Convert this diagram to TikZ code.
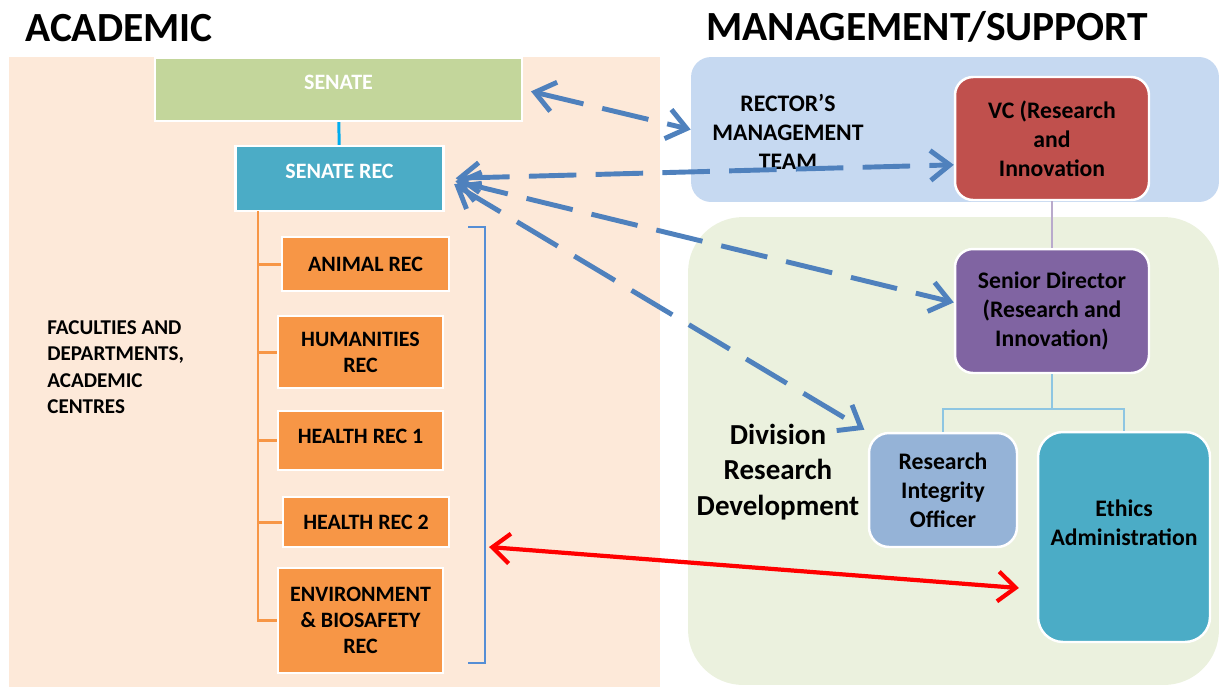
\documentclass[tikz,border=0pt]{standalone}
\usepackage{fontspec}
\setmainfont{Carlito}
\usetikzlibrary{arrows.meta}

\definecolor{acadbg}{RGB}{253,233,217}
\definecolor{senategreen}{RGB}{195,214,155}
\definecolor{recteal}{RGB}{75,172,198}
\definecolor{recorange}{RGB}{247,150,70}
\definecolor{rmtblue}{RGB}{198,217,241}
\definecolor{drdgreen}{RGB}{235,241,222}
\definecolor{vcred}{RGB}{192,80,77}
\definecolor{sdpurple}{RGB}{128,100,162}
\definecolor{rioblue}{RGB}{149,179,215}
\definecolor{linkblue}{RGB}{79,129,189}
\definecolor{bracketblue}{RGB}{85,142,213}

\begin{document}
\begin{tikzpicture}[x=0.02cm,y=-0.02cm,
  every node/.append style={inner sep=0pt},
  boxfont/.style={font=\fontsize{12.5}{14.8}\selectfont\bfseries},
  rightfont/.style={font=\fontsize{13.5}{16.5}\selectfont\bfseries},
  flatbox/.style={draw=white, line width=1.4pt, align=center, boxfont},
  recbox/.style={flatbox, fill=recorange, text=black},
  roundbox/.style={draw=white, line width=1.4pt, align=center, rightfont, rounded corners=0.36cm},
  dasharrow/.style={linkblue, line width=2.8pt, dash pattern=on 27pt off 11pt,
    {Straight Barb[length=11pt,width=17pt]}-{Straight Barb[length=11pt,width=17pt]}},
  redarrow/.style={red, line width=2.4pt,
    {Straight Barb[length=10pt,width=17pt]}-{Straight Barb[length=10pt,width=17pt]}},
  treeline/.style={recorange, line width=1.7pt},
  forkline/.style={cyan!35!recteal!60!white, line width=1.6pt}]
\useasboundingbox (0,0) rectangle (1219,687);

\fill [acadbg] (9,57) rectangle (660,687);
\node [fill=rmtblue, rounded corners=0.4cm, minimum width=10.56cm, minimum height=2.9cm] (rmt) at (955,129.5) {};
\node [fill=drdgreen, rounded corners=1.1cm, minimum width=10.62cm, minimum height=9.36cm] (drd) at (953.5,451) {};

\node [anchor=base west, font=\fontsize{23.6}{28}\selectfont\bfseries] (acadtitle) at (25,41) {ACADEMIC};
\node [anchor=base west, font=\fontsize{23.6}{28}\selectfont\bfseries] (mgmttitle) at (706,40) {MANAGEMENT/SUPPORT};

\node [flatbox, fill=senategreen, text=white, minimum width=7.34cm, text height=0.63cm, text depth=0.63cm] (senate) at (338.5,89.5) {SENATE};
\node [flatbox, fill=recteal, text=white, minimum width=4.16cm, text height=0.65cm, text depth=0.65cm] (senaterec) at (339.5,178.5) {SENATE REC};
\node [recbox, minimum width=3.34cm, minimum height=1.08cm] (animal) at (365.5,264) {ANIMAL REC};
\node [recbox, minimum width=3.3cm, minimum height=1.44cm] (humanities) at (360.5,352) {HUMANITIES\\REC};
\node [recbox, minimum width=3.3cm, text height=0.64cm, text depth=0.54cm] (healthone) at (360.5,440.5) {HEALTH REC 1};
\node [recbox, minimum width=3.32cm, minimum height=1.0cm] (healthtwo) at (366,522) {HEALTH REC 2};
\node [recbox, minimum width=3.3cm, minimum height=2.1cm] (environment) at (360.5,620.5) {ENVIRONMENT\\\&~BIOSAFETY\\REC};

\node [anchor=west, align=left, font=\fontsize{12}{15}\selectfont\bfseries] (faculties) at (47,367) {FACULTIES AND\\DEPARTMENTS,\\ACADEMIC\\CENTRES};

\node [align=center, font=\fontsize{13.5}{16.5}\selectfont\bfseries] (rector) at (788,132) {RECTOR'S\\MANAGEMENT\\TEAM};
\node [align=center, font=\fontsize{16.5}{20.2}\selectfont\bfseries] (division) at (778,472) {Division\\Research\\Development};

\node [roundbox, fill=vcred, minimum width=3.88cm, minimum height=2.46cm] (vc) at (1052,138.5) {VC (Research\\and\\Innovation};
\node [roundbox, fill=sdpurple, minimum width=3.88cm, minimum height=2.48cm] (sd) at (1052,311) {Senior Director\\(Research and\\Innovation)};
\node [roundbox, fill=rioblue, minimum width=2.96cm, minimum height=2.28cm, rounded corners=0.4cm] (rio) at (943,490) {Research\\Integrity\\Officer};
\node [roundbox, fill=recteal, minimum width=3.44cm, minimum height=4.2cm, rounded corners=0.5cm] (ethics) at (1124,537) {Ethics\\Administration\\\mbox{}};

\draw [cyan, line width=1.7pt] (senate) -- (senaterec);
\coordinate (trunk) at (258,211);
\draw [treeline] (trunk) |- (animal);
\draw [treeline] (trunk) |- (humanities);
\draw [treeline] (trunk) |- (healthone);
\draw [treeline] (trunk) |- (healthtwo);
\draw [treeline] (trunk) |- (environment);
\draw [bracketblue, line width=1.5pt] (468,227) -- (485,227) -- (485,663) -- (468,663);

\draw [sdpurple!55!white, line width=1.6pt] (vc) -- (sd);
\coordinate (fork) at (1052,409);
\draw [forkline] (sd.south) -- (fork) -| (rio.north);
\draw [forkline] (fork) -| (ethics.north);

\coordinate (bracketpt) at (489,547);
\draw [redarrow, shorten >=0.36cm] (bracketpt) -- (ethics.211);

\draw [dasharrow, shorten <=0.16cm] (senate.east) -- (rmt.west);
\draw [dasharrow, shorten <=0.22cm] (senaterec.east) -- (vc.195);
\draw [dasharrow, shorten <=0.22cm] (senaterec.east) -- (sd.175);
\draw [dasharrow, shorten <=0.22cm, shorten >=0.08cm] (senaterec.east) -- (rio.north west);
\end{tikzpicture}
\end{document}
